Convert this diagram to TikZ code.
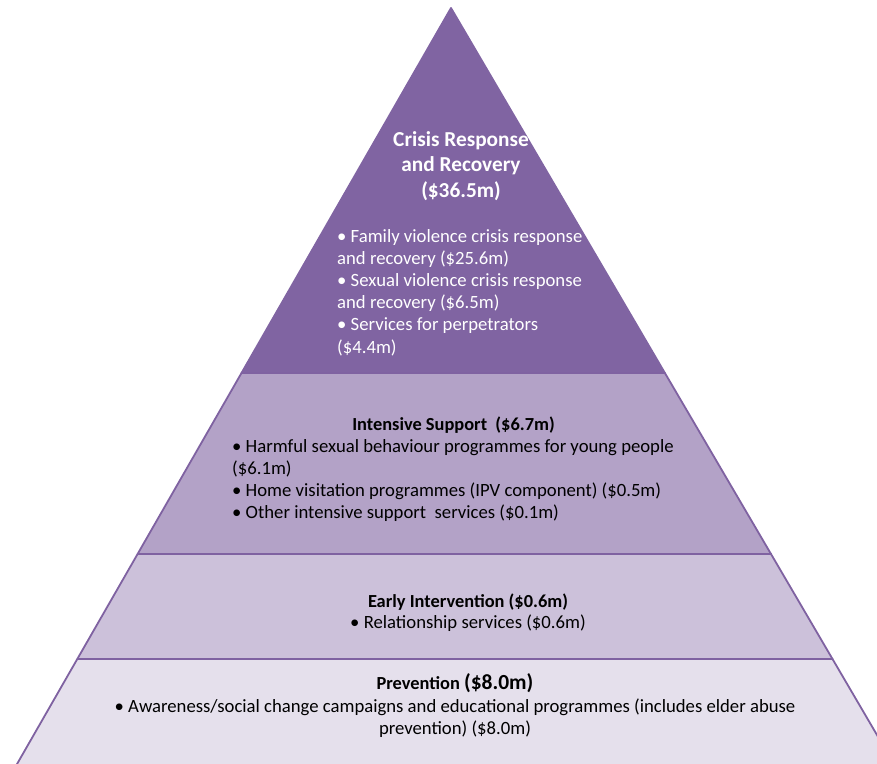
\documentclass[tikz,border=0pt]{standalone}
\usepackage{fontspec}
\setmainfont{Carlito}
\definecolor{pyrA}{HTML}{8064A2}
\definecolor{pyrB}{HTML}{B3A2C7}
\definecolor{pyrC}{HTML}{CCC1DA}
\definecolor{pyrD}{HTML}{E5E0EC}
\definecolor{pyrline}{HTML}{7F62A1}
\begin{document}
\begin{tikzpicture}[x=1pt,y=-1pt,
  band/.style={draw=pyrline, line width=1.8pt, line join=round},
  bigtitle/.style={inner sep=0pt, font=\fontsize{21.3}{25.3}\selectfont\bfseries},
  subtitle/.style={inner sep=0pt, font=\fontsize{18.4}{22}\selectfont\bfseries},
  body/.style={inner sep=0pt, font=\fontsize{18.7}{22.1}\selectfont}]
\useasboundingbox (0,0) rectangle (877,763);
\clip (0,0) rectangle (877,763);
\coordinate (apex) at (451,8);
\coordinate (L1) at (241.5,373); \coordinate (R1) at (664.9,373);
\coordinate (L2) at (137.6,554); \coordinate (R2) at (771,554);
\coordinate (L3) at (77.3,659);  \coordinate (R3) at (832.5,659);
\coordinate (L4) at (13.6,770);  \coordinate (R4) at (897.5,770);
% bands
\path[band, fill=pyrA, draw=pyrA] (apex) -- (R1) -- (L1) -- cycle;
\path[band, fill=pyrB] (L1) -- (R1) -- (R2) -- (L2) -- cycle;
\path[band, fill=pyrC] (L2) -- (R2) -- (R3) -- (L3) -- cycle;
\path[band, fill=pyrD] (L3) -- (R3) -- (R4) -- (L4) -- cycle;
% crisis response (base anchor = baseline of last line)
\node[bigtitle, text=white, align=center, anchor=base] (crisisT) at (461,197.1)
  {Crisis Response\\and Recovery\\(\$36.5m)};
\node[body, text=white, align=left, anchor=base west] (crisisB) at (337,353)
  {• Family violence crisis response\\and recovery (\$25.6m)\\• Sexual violence crisis response\\and recovery (\$6.5m)\\• Services for perpetrators\\(\$4.4m)};
% intensive support
\node[subtitle, anchor=base] (intT) at (453.5,430) {Intensive Support\ \ (\$6.7m)};
\node[body, align=left, anchor=base west] (intB) at (232,518.8)
  {• Harmful sexual behaviour programmes for young people\\(\$6.1m)\\• Home visitation programmes (IPV component) (\$0.5m)\\• Other intensive support\ \ services (\$0.1m)};
% early intervention
\node[subtitle, anchor=base] (earlyT) at (468,607.5) {Early Intervention (\$0.6m)};
\node[body, anchor=base] (earlyB) at (468,628.5) {• Relationship services (\$0.6m)};
% prevention
\node[subtitle, anchor=base] (prevT) at (455,689) {Prevention {\fontsize{21.5}{25}\selectfont(\$8.0m)}};
\node[body, align=center, anchor=base] (prevB) at (455,734.6)
  {• Awareness/social change campaigns and educational programmes (includes elder abuse\\prevention) (\$8.0m)};
\end{tikzpicture}
\end{document}
